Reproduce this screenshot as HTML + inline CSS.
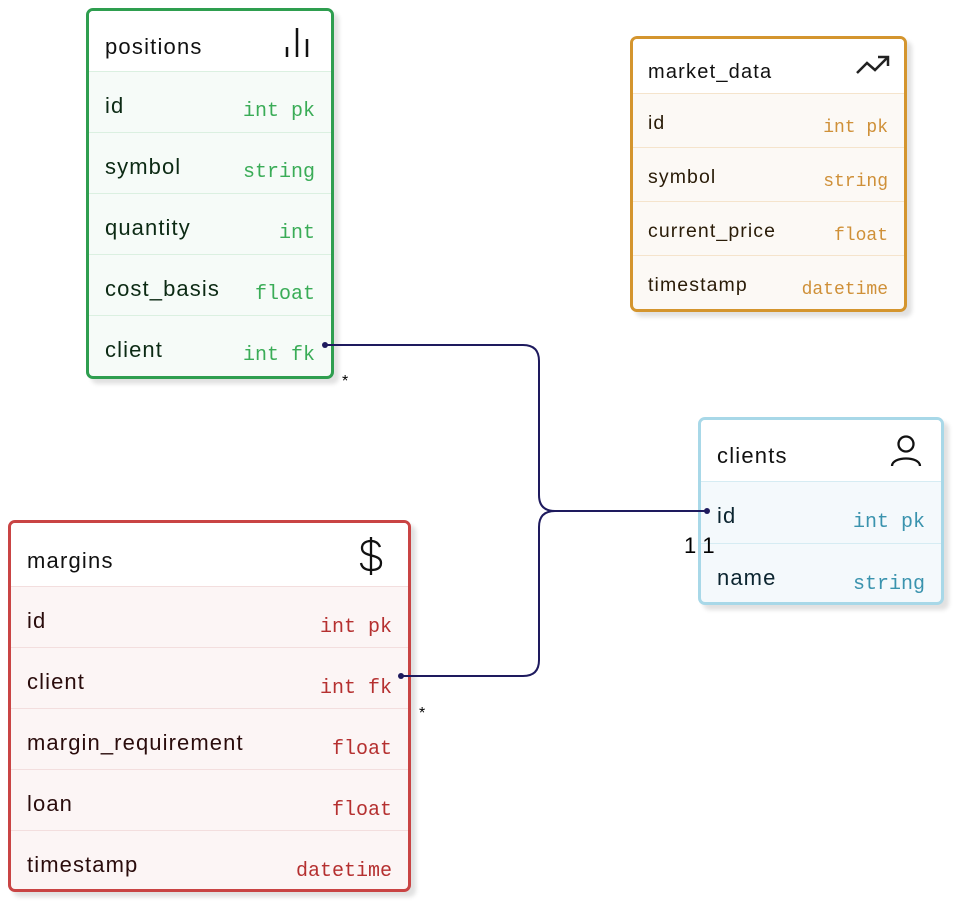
<!DOCTYPE html>
<html><head><meta charset="utf-8"><style>
body{margin:0;width:956px;height:908px;background:#fff;position:relative;overflow:hidden;font-family:"Liberation Sans",sans-serif}
.t{position:absolute;box-sizing:border-box;border:3px solid;border-radius:7px;overflow:hidden;box-shadow:5px 5px 4px rgba(0,0,0,0.12)}
.h{background:#fff;position:relative;box-sizing:border-box;color:#111}
.r{position:relative;box-sizing:border-box;border-top:1.5px solid}
.n{position:absolute;left:16px;letter-spacing:1.1px}
.h .n{letter-spacing:1.2px}
.ty{position:absolute;right:16px;font-family:"Liberation Mono",monospace}
.ic{position:absolute;right:20px}
svg{position:absolute;left:0;top:0}
</style></head><body>

<!-- positions -->
<div class="t" style="left:86px;top:8px;width:248px;height:371px;border-color:#2e9e4f;background:#f6fbf8">
 <div class="h" style="height:60px;font-size:22px"><span class="n" style="top:23px">positions</span>
  <svg style="left:195px;top:14px" width="28" height="34"><g stroke="#111" stroke-width="2.5"><line x1="3" y1="32" x2="3" y2="22"/><line x1="13" y1="32" x2="13" y2="3"/><line x1="23" y1="32" x2="23" y2="14"/></g></svg></div>
 <div class="r" style="height:61px;border-color:#dbf0e1;font-size:22px;color:#0c2a14"><span class="n" style="top:21px">id</span><span class="ty" style="top:28px;color:#3aac57;font-size:20px">int pk</span></div>
 <div class="r" style="height:61px;border-color:#dbf0e1;font-size:22px;color:#0c2a14"><span class="n" style="top:21px">symbol</span><span class="ty" style="top:28px;color:#3aac57;font-size:20px">string</span></div>
 <div class="r" style="height:61px;border-color:#dbf0e1;font-size:22px;color:#0c2a14"><span class="n" style="top:21px">quantity</span><span class="ty" style="top:28px;color:#3aac57;font-size:20px">int</span></div>
 <div class="r" style="height:61px;border-color:#dbf0e1;font-size:22px;color:#0c2a14"><span class="n" style="top:21px">cost_basis</span><span class="ty" style="top:28px;color:#3aac57;font-size:20px">float</span></div>
 <div class="r" style="height:61px;border-color:#dbf0e1;font-size:22px;color:#0c2a14"><span class="n" style="top:21px">client</span><span class="ty" style="top:28px;color:#3aac57;font-size:20px">int fk</span></div>
</div>

<!-- market_data -->
<div class="t" style="left:630px;top:36px;width:277px;height:276px;border-color:#d4952e;background:#fcf9f5">
 <div class="h" style="height:54px;font-size:20px"><span class="n" style="left:15px;top:22px">market_data</span>
  <svg style="left:222px;top:15px" width="36" height="22"><polyline points="2,19 12,9 20,16 33,3" fill="none" stroke="#222" stroke-width="2.5"/><polyline points="23,3 33,3 33,12" fill="none" stroke="#222" stroke-width="2.5"/></svg></div>
 <div class="r" style="height:54px;border-color:#f5e4cc;font-size:19.5px;color:#2a1c08"><span class="n" style="left:15px;top:18px">id</span><span class="ty" style="top:24px;color:#cf9038;font-size:18px">int pk</span></div>
 <div class="r" style="height:54px;border-color:#f5e4cc;font-size:19.5px;color:#2a1c08"><span class="n" style="left:15px;top:18px">symbol</span><span class="ty" style="top:24px;color:#cf9038;font-size:18px">string</span></div>
 <div class="r" style="height:54px;border-color:#f5e4cc;font-size:19.5px;color:#2a1c08"><span class="n" style="left:15px;top:18px">current_price</span><span class="ty" style="top:24px;color:#cf9038;font-size:18px">float</span></div>
 <div class="r" style="height:54px;border-color:#f5e4cc;font-size:19.5px;color:#2a1c08"><span class="n" style="left:15px;top:18px">timestamp</span><span class="ty" style="top:24px;color:#cf9038;font-size:18px">datetime</span></div>
</div>

<!-- clients -->
<div class="t" style="left:698px;top:417px;width:246px;height:188px;border-color:#a8d8e8;background:#f4f9fc">
 <div class="h" style="height:61px;font-size:22px"><span class="n" style="top:23px">clients</span>
  <svg style="left:188px;top:14px" width="34" height="34"><circle cx="17" cy="10" r="7.5" fill="none" stroke="#111" stroke-width="2.3"/><path d="M3 32 C3 22 31 22 31 32" fill="none" stroke="#111" stroke-width="2.3"/></svg></div>
 <div class="r" style="height:62px;border-color:#d6ecf3;font-size:22px;color:#0c2530"><span class="n" style="top:21px">id</span><span class="ty" style="top:29px;color:#3a93ae;font-size:20px">int pk</span></div>
 <div class="r" style="height:62px;border-color:#d6ecf3;font-size:22px;color:#0c2530"><span class="n" style="top:21px">name</span><span class="ty" style="top:29px;color:#3a93ae;font-size:20px">string</span></div>
</div>

<!-- margins -->
<div class="t" style="left:8px;top:520px;width:403px;height:372px;border-color:#c94444;background:#fcf5f5">
 <div class="h" style="height:63px;font-size:22px"><span class="n" style="top:25px">margins</span>
  <svg style="left:345px;top:12px" width="30" height="42"><g fill="none" stroke="#111" stroke-width="2.3"><line x1="15" y1="2" x2="15" y2="40"/><path d="M24 12 C22 7 18 6 15 6 C9 6 6 9 6 13 C6 23 25 18 25 28 C25 33 21 35 15 35 C10 35 6 33 5 28"/></g></svg></div>
 <div class="r" style="height:61px;border-color:#f3dede;font-size:22px;color:#2a0c0c"><span class="n" style="top:21px">id</span><span class="ty" style="top:29px;color:#b53030;font-size:20px">int pk</span></div>
 <div class="r" style="height:61px;border-color:#f3dede;font-size:22px;color:#2a0c0c"><span class="n" style="top:21px">client</span><span class="ty" style="top:29px;color:#b53030;font-size:20px">int fk</span></div>
 <div class="r" style="height:61px;border-color:#f3dede;font-size:22px;color:#2a0c0c"><span class="n" style="top:21px">margin_requirement</span><span class="ty" style="top:29px;color:#b53030;font-size:20px">float</span></div>
 <div class="r" style="height:61px;border-color:#f3dede;font-size:22px;color:#2a0c0c"><span class="n" style="top:21px">loan</span><span class="ty" style="top:29px;color:#b53030;font-size:20px">float</span></div>
 <div class="r" style="height:61px;border-color:#f3dede;font-size:22px;color:#2a0c0c"><span class="n" style="top:21px">timestamp</span><span class="ty" style="top:29px;color:#b53030;font-size:20px">datetime</span></div>
</div>

<svg width="956" height="908">
 <g fill="none" stroke="#1e1a5e" stroke-width="2">
  <path d="M325 345 H523 Q539 345 539 361 V495 Q539 511 555 511 H707"/>
  <path d="M401 676 H523 Q539 676 539 660 V527 Q539 511 555 511"/>
 </g>
 <g fill="#1e1a5e"><circle cx="325" cy="345" r="3"/><circle cx="401" cy="676" r="3"/><circle cx="707" cy="511" r="3"/></g>
 <g font-family="Liberation Sans,sans-serif" fill="#000">
  <text x="342" y="386" font-size="16">*</text>
  <text x="419" y="718" font-size="16">*</text>
  <text x="684" y="553" font-size="22">1 1</text>
 </g>
</svg>
</body></html>
